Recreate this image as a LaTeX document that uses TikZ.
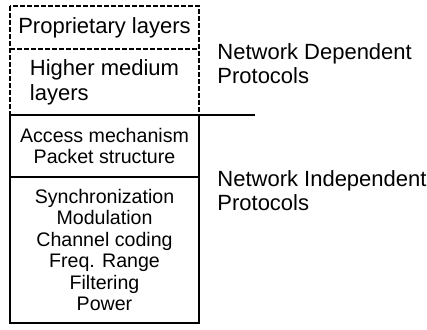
\documentclass[tikz,border=0pt]{standalone}
\usepackage{fontspec}
\setmainfont{Liberation Sans}
\usetikzlibrary{positioning}

\begin{document}
\begin{tikzpicture}[
    x=0.5pt, y=-0.5pt,
    node distance=0pt,
    layer/.style={
        outer sep=0pt,
        inner sep=0pt,
        minimum width=94.5pt,
        align=center
    },
    upper/.style={
        layer,
        font=\fontsize{11}{12.5}\selectfont
    },
    lower/.style={
        layer,
        draw,
        line width=0.7pt,
        font=\fontsize{9.8}{10.75}\selectfont
    },
    frame/.style={
        line width=0.7pt,
        dash pattern=on 2.5pt off 1pt
    },
    group/.style={
        anchor=west,
        align=left,
        inner sep=0pt,
        font=\fontsize{11}{12}\selectfont
    }
]

\useasboundingbox (0,0) rectangle (427,329);

\node[upper, minimum height=21.5pt, anchor=north west] (prop) at (10,6)
{Proprietary layers};

\node[upper, minimum height=33pt, align=left,
below=of prop] (higher)
{Higher medium\\layers};

\node[lower, minimum height=31pt,
below=of higher] (access)
{Access mechanism\\Packet structure};

\node[lower, minimum height=73pt,
below=of access] (phys)
{Synchronization\\Modulation\\Channel coding\\Freq. Range\\Filtering\\Power};

% dashed frame of the upper layers
\draw[frame] (prop.north west) rectangle (higher.south east);
\draw[frame] (prop.south west) -- (prop.south east);

\coordinate (split) at (255,115);

\draw[line width=0.7pt]
(access.north west) -- (split);

\node[group] (dep) at (217,64)
{Network Dependent\\Protocols};

\node[group] (indep) at (217,191)
{Network Independent\\Protocols};

\end{tikzpicture}
\end{document}
